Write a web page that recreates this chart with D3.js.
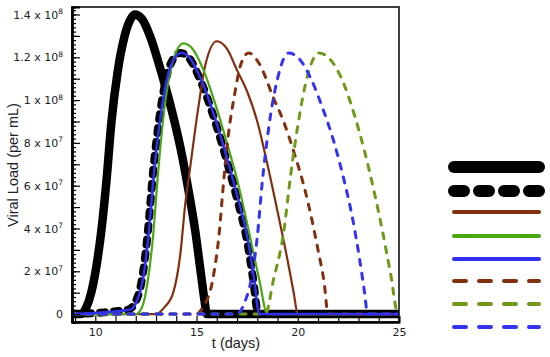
<!DOCTYPE html>
<html>
<head>
<meta charset="utf-8">
<script src="https://cdn.jsdelivr.net/npm/d3@7"></script>
<style>
  body { margin: 0; background: #fff; }
  svg { font-family: "Liberation Sans", Arial, sans-serif; }
</style>
</head>
<body>
<svg id="chart" width="550" height="357"></svg>
<script>
// values: [t (days), viral load per mL]
var blackSolid = [[8.85,0],[9.3,0],[9.55,3e6],[9.8,1e7],[10.05,2.2e7],[10.3,3.9e7],[10.55,6.2e7],[10.8,9.0e7],[11.1,1.13e8],[11.45,1.3e8],[11.7,1.37e8],[11.95,1.4e8],[12.3,1.38e8],[12.7,1.3e8],[13.2,1.15e8],[13.7,9.8e7],[14.2,7.8e7],[14.6,5.8e7],[14.95,3.8e7],[15.2,2e7],[15.4,6e6],[15.5,0],[25,0]];
var blackDashed = [[8.85,0],[11.6,2e6],[12.0,6e6],[12.3,1.6e7],[12.57,3.6e7],[12.87,6.8e7],[13.2,9.4e7],[13.55,1.12e8],[13.9,1.2e8],[14.2,1.22e8],[14.6,1.2e8],[15.2,1.09e8],[16.05,8.6e7],[16.6,6.8e7],[17.0,5.4e7],[17.5,3.4e7],[17.8,1.6e7],[18.05,0],[25,0]];
var brownSolid = [[8.85,0],[13.0,0],[13.4,3e6],[13.85,1e7],[14.2,2.8e7],[14.45,5.2e7],[14.65,6.6e7],[15.05,9.4e7],[15.45,1.17e8],[16.0,1.275e8],[16.5,1.24e8],[17.0,1.14e8],[17.5,1.04e8],[18.0,9.0e7],[18.5,7.0e7],[19.0,4.8e7],[19.5,2.5e7],[19.8,1e7],[20.0,0],[25,0]];
var greenSolid = [[8.85,0],[12.0,0],[12.3,3e6],[12.6,1.6e7],[12.85,3.6e7],[13.1,6.6e7],[13.4,9.5e7],[13.8,1.17e8],[14.35,1.265e8],[14.8,1.24e8],[15.3,1.15e8],[16.0,9.6e7],[16.5,8.0e7],[17.0,6.3e7],[17.6,3.8e7],[18.1,1.6e7],[18.5,0],[25,0]];
var blueSolid = [[8.85,0],[11.7,2e6],[12.05,6e6],[12.35,1.6e7],[12.62,3.6e7],[12.92,6.8e7],[13.25,9.4e7],[13.6,1.12e8],[13.95,1.2e8],[14.25,1.22e8],[14.65,1.2e8],[15.25,1.09e8],[16.1,8.6e7],[16.65,6.8e7],[17.05,5.4e7],[17.55,3.4e7],[17.85,1.6e7],[18.1,0],[25,0]];
var brownDashed = [[8.85,0],[15.0,0],[15.3,3e6],[15.8,1.6e7],[16.1,3.6e7],[16.35,6.3e7],[16.55,8.2e7],[16.85,1.01e8],[17.2,1.17e8],[17.57,1.22e8],[18.1,1.17e8],[18.8,1.01e8],[19.3,9.0e7],[19.8,7.6e7],[20.3,6.0e7],[20.7,4.4e7],[21.0,3.0e7],[21.3,1.5e7],[21.5,0],[25,0]];
var greenDashed = [[8.85,0],[18.4,0],[18.8,1.6e7],[19.3,3.8e7],[19.65,6.5e7],[20.0,8.8e7],[20.5,1.12e8],[21.04,1.22e8],[21.6,1.19e8],[22.3,1.07e8],[22.8,9.3e7],[23.3,7.6e7],[23.8,5.6e7],[24.2,3.8e7],[24.6,1.8e7],[24.95,0],[25,0]];
var blueDashed = [[8.85,0],[17.0,0],[17.4,6e6],[17.7,1.6e7],[18.0,3.6e7],[18.25,6.2e7],[18.55,8.6e7],[19.0,1.1e8],[19.55,1.22e8],[20.1,1.19e8],[20.65,1.1e8],[21.2,9.7e7],[21.8,8.0e7],[22.3,6.2e7],[22.7,4.5e7],[23.05,2.6e7],[23.3,1e7],[23.45,0],[25,0]];

var xTicks = [9,10,11,12,13,14,15,16,17,18,19,20,21,22,23,24,25];
var xLabels = [10,15,20,25];
var yLabels = [0,2e7,4e7,6e7,8e7,1e8,1.2e8,1.4e8];

(function(){
    'use strict';

    // legend order
    var series = [
        { data: blackSolid,  color: '#000',    width: 8.5, dash: null,  legDash: null,    legWidth: 12 },
        { data: blackDashed, color: '#000',    width: 8,   dash: '5,9', legDash: '10,15', legWidth: 12 },
        { data: brownSolid,  color: '#82300e', width: 2.2, dash: null,  legDash: null,    legWidth: 4 },
        { data: greenSolid,  color: '#48a814', width: 2.2, dash: null,  legDash: null,    legWidth: 4 },
        { data: blueSolid,   color: '#3030f0', width: 2.5, dash: null,  legDash: null,    legWidth: 4 },
        { data: brownDashed, color: '#82300e', width: 3,   dash: '6,8', legDash: '12,13', legWidth: 4 },
        { data: greenDashed, color: '#6e9a18', width: 3,   dash: '6,8', legDash: '12,13', legWidth: 4 },
        { data: blueDashed,  color: '#3434f0', width: 3,   dash: '6,8', legDash: '12,13', legWidth: 4 }
    ];
    // drawing order: blue solid ends up on top
    var drawOrder = [0, 1, 2, 3, 5, 6, 7, 4];
    var tickFont = '"DejaVu Sans", Verdana, sans-serif';

    var svg = d3.select('#chart'),
        pl = 72, pr = 399, pt = 7, pb = 322;

    var x = d3.scaleLinear().domain([8.85, 25]).range([pl, pr]),
        y = d3.scaleLinear().domain([-3.7e6, 1.435e8]).range([pb, pt]);

    svg.append('clipPath').attr('id', 'plot')
        .append('rect')
        .attr('x', pl).attr('y', pt)
        .attr('width', pr - pl).attr('height', pb - pt);

    var line = d3.line()
        .x(function(d){ return x(d[0]); })
        .y(function(d){ return y(d[1]); })
        .curve(d3.curveMonotoneX);

    svg.append('g').attr('clip-path', 'url(#plot)')
        .selectAll('path')
        .data(drawOrder.map(function(i){ return series[i]; }))
        .enter().append('path')
        .attr('d', function(s){ return line(s.data); })
        .attr('fill', 'none')
        .attr('stroke', function(s){ return s.color; })
        .attr('stroke-width', function(s){ return s.width; })
        .attr('stroke-linecap', 'round')
        .attr('stroke-linejoin', 'round')
        .attr('stroke-dasharray', function(s){ return s.dash; });

    // frame
    svg.append('rect')
        .attr('x', pl).attr('y', pt)
        .attr('width', pr - pl).attr('height', pb - pt)
        .attr('fill', 'none').attr('stroke', '#000').attr('stroke-width', 1.5);

    // y axis: minor and major ticks pointing in
    var minorY = d3.range(0, 1.43e8, 2e6),
        majorY = d3.range(0, 1.41e8, 1e7);

    svg.append('g')
        .attr('transform', 'translate(' + pl + ',0)')
        .call(d3.axisLeft(y).tickValues(minorY).tickSize(-4).tickFormat(''));
    svg.append('g')
        .attr('transform', 'translate(' + pl + ',0)')
        .call(d3.axisLeft(y).tickValues(majorY).tickSize(-8).tickFormat(''));

    var yAxis = svg.append('g')
        .attr('transform', 'translate(' + pl + ',0)')
        .call(d3.axisLeft(y).tickValues(yLabels).tickSize(0).tickPadding(9).tickFormat(''));

    yAxis.selectAll('.tick text').each(function(v){
        var t = d3.select(this).attr('font-size', 11).attr('fill', '#222')
            .style('font-family', tickFont);
        if ( v === 0 ){
            t.text('0');
            return;
        }
        var exp = Math.floor(Math.log10(v) + 1e-9),
            mant = +(v / Math.pow(10, exp)).toFixed(1);
        t.append('tspan').text(mant + ' x 10');
        t.append('tspan').attr('font-size', 7.5).attr('dy', -4.5).text(exp);
    });

    // x axis
    svg.append('g')
        .attr('transform', 'translate(0,' + pb + ')')
        .call(d3.axisBottom(x).tickValues(xTicks).tickSize(-6).tickFormat(''));
    var xAxis = svg.append('g')
        .attr('transform', 'translate(0,' + pb + ')')
        .call(d3.axisBottom(x).tickValues(xLabels).tickSize(0).tickPadding(6));
    xAxis.selectAll('text').attr('font-size', 11).attr('fill', '#222')
        .style('font-family', tickFont);

    svg.selectAll('.domain').attr('stroke', '#000').attr('stroke-width', 2);
    svg.selectAll('.tick line').attr('stroke', '#000').attr('stroke-width', 1.2);

    // titles
    svg.append('text')
        .attr('x', 236).attr('y', 348)
        .attr('text-anchor', 'middle')
        .attr('font-size', 14.5)
        .attr('fill', '#222')
        .text('t (days)');
    svg.append('text')
        .attr('transform', 'translate(18,165) rotate(-90)')
        .attr('text-anchor', 'middle')
        .attr('font-size', 14.5)
        .attr('fill', '#222')
        .text('Viral Load (per mL)');

    // legend, samples only
    var legY = [167, 191, 212, 236, 259, 281, 304, 327];
    svg.append('g').selectAll('line')
        .data(series)
        .enter().append('line')
        .attr('x1', 454)
        .attr('x2', 539)
        .attr('y1', function(s, i){ return legY[i]; })
        .attr('y2', function(s, i){ return legY[i]; })
        .attr('stroke', function(s){ return s.color; })
        .attr('stroke-width', function(s){ return s.legWidth; })
        .attr('stroke-linecap', 'round')
        .attr('stroke-dasharray', function(s){ return s.legDash; });
})();
</script>
</body>
</html>
